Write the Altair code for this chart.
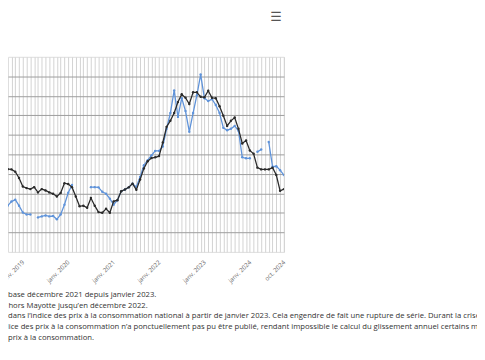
import altair as alt
import pandas as pd

# Monthly categories, July 2018 .. October 2024
months = [str(p) for p in pd.period_range("2018-07", "2024-10", freq="M")]

# Annual change (%) – dark series
serie_noire = [
    2.28, 2.28, 2.24, 2.23, 2.11, 1.79, 1.35, 1.27, 1.22, 1.32, 1.05, 1.22,
    1.15, 1.05, 0.98, 0.84, 1.02, 1.52, 1.48, 1.32, 0.84, 0.34, 0.37, 0.26,
    0.76, 0.37, 0.04, 0.01, 0.21, 0.01, 0.59, 0.65, 1.11, 1.20, 1.31, 1.50,
    1.18, 1.71, 2.28, 2.65, 2.81, 2.85, 2.91, 3.61, 4.41, 4.72, 5.12, 5.68,
    6.08, 5.90, 5.58, 6.18, 6.18, 5.95, 5.93, 6.26, 5.90, 5.88, 5.47, 4.98,
    4.46, 4.72, 4.89, 4.31, 3.56, 3.71, 3.20, 3.03, 2.32, 2.23, 2.23, 2.23,
    2.32, 1.94, 1.13, 1.22,
]

# Annual change (%) – blue series (None = not published)
serie_bleue = [
    0.73, 0.93, 0.37, 0.58, 0.68, 0.37, 0.02, -0.08, -0.08, None, -0.23, -0.18,
    -0.13, -0.18, -0.16, -0.33, -0.08, 0.42, 1.03, 1.43, None, None, None, None,
    1.32, 1.32, 1.31, 1.08, 0.98, 0.73, 0.42, 0.65, 1.11, 1.20, 1.31, 1.50,
    1.33, 1.84, 2.44, 2.70, 2.95, 3.18, 3.18, 3.40, 4.31, 5.12, 6.28, 4.92,
    5.88, 5.22, 4.16, 5.12, 6.03, 7.09, 5.88, 5.73, 5.83, 5.53, 5.12, 4.36,
    4.24, 4.31, 4.46, 4.21, 2.85, 2.80, 2.80, None, 3.13, 3.25, None, 3.63,
    2.37, 2.39, 2.19, 1.94,
]

tick_months = ["2019-01", "2020-01", "2021-01", "2022-01", "2023-01", "2024-01", "2024-10"]
tick_labels = ["janv. 2019", "janv. 2020", "janv. 2021", "janv. 2022", "janv. 2023", "janv. 2024", "oct. 2024"]

notes = [
    "base décembre 2021 depuis janvier 2023.",
    "e hors Mayotte jusqu’en décembre 2022.",
    "dans l’indice des prix à la consommation national à partir de janvier 2023. Cela engendre de fait une rupture de série. Durant la crise sanitaire",
    "dice des prix à la consommation n’a ponctuellement pas pu être publié, rendant impossible le calcul du glissement annuel certains mois.",
    "prix à la consommation.",
]

BLACK = "#2a2a2a"
BLUE = "#5f93da"

df = pd.DataFrame({
    "mois": months,
    "idx": list(range(len(months))),
    "noire": serie_noire,
    "bleue": serie_bleue,
})

tick_idx = [months.index(m) for m in tick_months]
label_expr = "".join(
    f"datum.value == {i} ? '{l}' : " for i, l in zip(tick_idx, tick_labels)
) + "''"

px_per_month = 3.84
plot_w = 280
last = len(months) - 1
x_scale = alt.Scale(domain=[last - plot_w / px_per_month, last], nice=False, zero=False)
y_scale = alt.Scale(domain=[-2, 8], nice=False, zero=False)

x_axis = alt.Axis(
    values=list(range(3, last + 1)), grid=True, gridColor="#d2d2d2", gridWidth=1,
    ticks=False, domain=False, title=None, labelExpr=label_expr,
    labelAngle=-45, labelAlign="right", labelBaseline="middle", labelPadding=9,
    labelOverlap=False, labelFlush=False, labelBound=False,
    labelFont="Open Sans", labelFontSize=6.3, labelColor="#666666",
)
y_axis = alt.Axis(
    values=list(range(-1, 8)), grid=True, gridColor="#9c9c9c", gridWidth=1,
    ticks=False, domain=False, labels=False, title=None,
)

base = alt.Chart(df)

blue_line = base.mark_line(
    color=BLUE, strokeWidth=1.3, clip=True,
    point=alt.OverlayMarkDef(filled=True, size=6, color=BLUE),
).encode(
    x=alt.X("idx:Q", scale=x_scale, axis=x_axis),
    y=alt.Y("bleue:Q", scale=y_scale, axis=y_axis),
)

black_line = base.mark_line(
    color=BLACK, strokeWidth=1.3, clip=True,
    point=alt.OverlayMarkDef(filled=True, size=6, color=BLACK),
).encode(
    x=alt.X("idx:Q", scale=x_scale, axis=x_axis),
    y=alt.Y("noire:Q", scale=y_scale, axis=y_axis),
)

note_x = [0, -6, 0, -4, 0]
note_y = [241.5, 252.5, 263.5, 274.5, 285.0]
note_layers = []
for txt, nx, ny in zip(notes, note_x, note_y):
    note_layers.append(
        alt.Chart(pd.DataFrame({"t": [txt]})).mark_text(
            align="left", baseline="middle", font="Open Sans", fontSize=7.8,
            color="#333333",
        ).encode(text="t:N", x=alt.value(nx), y=alt.value(ny))
    )

menu = alt.Chart(pd.DataFrame({"t": ["☰"]})).mark_text(
    align="center", baseline="middle", font="DejaVu Sans", fontSize=13, color="#555555",
).encode(text="t:N", x=alt.value(272), y=alt.value(-40))

chart = alt.layer(blue_line, black_line, *note_layers, menu).properties(
    width=plot_w, height=198,
    autosize=alt.AutoSizeParams(type="none"),
    padding={"left": 0, "top": 47, "right": 196, "bottom": 97},
).configure_view(stroke="#d6d6d6", strokeWidth=1).configure(font="Open Sans")

chart.save("out.html", embed_options={"renderer": "svg", "actions": False})
